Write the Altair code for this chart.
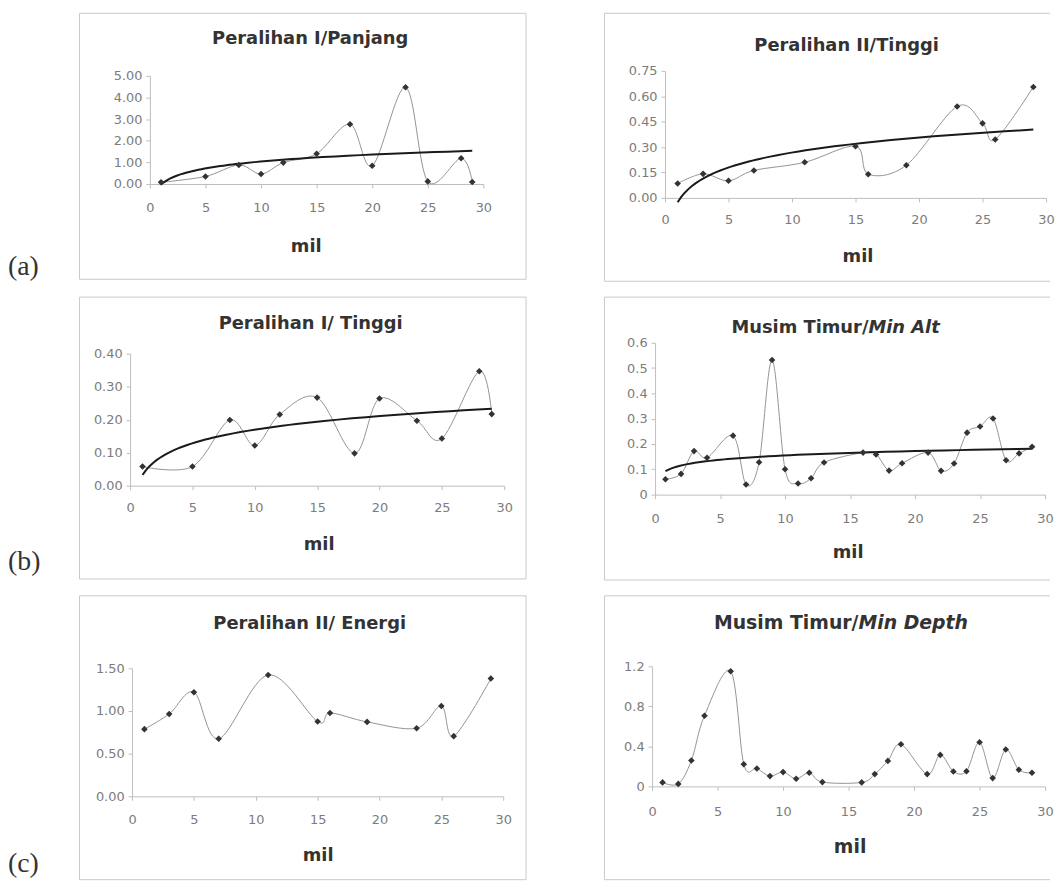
import altair as alt
import pandas as pd

# ---------------- data ----------------
x_ticks = [0, 5, 10, 15, 20, 25, 30]

mil_a1 = [1, 5, 8, 10, 12, 15, 18, 20, 23, 25, 28, 29]
val_a1 = [0.08, 0.35, 0.88, 0.46, 0.99, 1.40, 2.76, 0.84, 4.47, 0.12, 1.19, 0.09]
yt_a1 = [0, 1, 2, 3, 4, 5]

mil_a2 = [1, 3, 5, 7, 11, 15, 16, 19, 23, 25, 26, 29]
val_a2 = [0.085, 0.142, 0.101, 0.162, 0.21, 0.305, 0.14, 0.193, 0.54, 0.44, 0.345, 0.655]
yt_a2 = [0, 0.15, 0.30, 0.45, 0.60, 0.75]

mil_b1 = [1, 5, 8, 10, 12, 15, 18, 20, 23, 25, 28, 29]
val_b1 = [0.058, 0.058, 0.199, 0.122, 0.216, 0.267, 0.098, 0.264, 0.197, 0.143, 0.347, 0.217]
yt_b1 = [0, 0.1, 0.2, 0.3, 0.4]

mil_b2 = [0.8, 2, 3, 4, 6, 7, 8, 9, 10, 11, 12, 13, 16, 17, 18, 19, 21, 22, 23, 24, 25, 26, 27, 28, 29]
val_b2 = [0.061, 0.082, 0.172, 0.146, 0.233, 0.040, 0.128, 0.532, 0.100, 0.044, 0.065, 0.127,
          0.166, 0.159, 0.095, 0.124, 0.166, 0.094, 0.123, 0.245, 0.269, 0.301, 0.136, 0.163, 0.189]
yt_b2 = [0, 0.1, 0.2, 0.3, 0.4, 0.5, 0.6]

mil_c1 = [1, 3, 5, 7, 11, 15, 16, 19, 23, 25, 26, 29]
val_c1 = [0.787, 0.965, 1.22, 0.674, 1.422, 0.876, 0.977, 0.872, 0.798, 1.058, 0.705, 1.38]
yt_c1 = [0, 0.5, 1.0, 1.5]

mil_c2 = [0.8, 2, 3, 4, 6, 7, 8, 9, 10, 11, 12, 13, 16, 17, 18, 19, 21, 22, 23, 24, 25, 26, 27, 28, 29]
val_c2 = [0.04, 0.025, 0.259, 0.706, 1.15, 0.222, 0.179, 0.103, 0.143, 0.076, 0.136, 0.043,
          0.040, 0.123, 0.255, 0.421, 0.123, 0.315, 0.149, 0.152, 0.441, 0.083, 0.368, 0.166, 0.136]
yt_c2 = [0, 0.4, 0.8, 1.2]

titles = {
    "a1": ["Peralihan I/Panjang"],
    "a2": ["Peralihan II/Tinggi"],
    "b1": ["Peralihan I/ Tinggi"],
    "b2": ["Musim Timur/", "Min Alt"],
    "c1": ["Peralihan II/ Energi"],
    "c2": ["Musim Timur/", "Min Depth"],
}
side_labels = {"a1": "(a)", "b1": "(b)", "c1": "(c)"}
x_title = "mil"

# ---------------- layout (page pixel coordinates) ----------------
# ox/oy = origin of the view group (shared within grid rows / columns)
LEFT_OX = 131
ROW_OY = {1: 70, 2: 342, 3: 666}
RIGHT_EDGE = 1056
G = {
    "a1": dict(row=1, x0=151, w=336, y0=75, h=109, fl=80, fr=530, ft=12, fb=280,
               tx=312.5, ty=38, mx=308, my=247, ly=208, lab_y=268, lab_base="middle", ts=18),
    "a2": dict(row=1, x0=668, w=384, y0=70, h=128, fl=607, fr=RIGHT_EDGE, ft=12, fb=282,
               tx=851, ty=45, mx=862, my=257, ly=220, ts=18),
    "b1": dict(row=2, x0=131, w=377, y0=353, h=133, fl=80, fr=530, ft=296, fb=580,
               tx=313, ty=323, mx=321, my=545, ly=508, lab_y=563, lab_base="middle", ts=18),
    "b2": dict(row=2, x0=658, w=393, y0=342, h=153, fl=607, fr=RIGHT_EDGE, ft=296, fb=581,
               tx=873, ty=327, mx=852, my=553, ly=519, ts=18),
    "c1": dict(row=3, x0=133, w=374, y0=668, h=129, fl=80, fr=530, ft=595, fb=881,
               tx=312, ty=623, mx=320, my=857, ly=820, lab_y=879, lab_base="bottom", ts=18),
    "c2": dict(row=3, x0=655, w=396, y0=666, h=121, fl=607, fr=RIGHT_EDGE, ft=595, fb=881,
               tx=863, ty=622, mx=854, my=848, ly=812, ts=19),
}

FONT = "DejaVu Sans"
TICK_SIZE = 4
AXIS_GRAY = "#bdbdbd"
LABEL_GRAY = "#7c7c7c"
TEXT_DARK = "#333333"
FRAME_GRAY = "#c9c9c9"


def deco():
    return alt.Chart(alt.Data(values=[{"d": 0}]))


def panel(key, xs, ys, yticks, yfmt, with_trend, left_col):
    g = G[key]
    x0, y0, w, h = g["x0"], g["y0"], g["w"], g["h"]
    ox = LEFT_OX if left_col else x0
    oy = ROW_OY[g["row"]]
    dx, dy = x0 - ox, y0 - oy
    vw, vh = dx + w, dy + h
    bottom = y0 + h
    df = pd.DataFrame({"mil": xs, "v": ys})

    X = alt.X(
        "mil:Q",
        scale=alt.Scale(domain=[0, 30], nice=False, zero=False, range=[dx, dx + w]),
        axis=alt.Axis(
            values=x_ticks, format="d", title=x_title,
            titleFont=FONT, titleFontSize=g["ts"], titleFontWeight="bold", titleColor=TEXT_DARK,
            titleX=g["mx"] - ox, titleY=g["my"] - bottom, titleBaseline="middle", titleAlign="center",
            labelFont=FONT, labelFontSize=13, labelColor=LABEL_GRAY,
            labelBaseline="middle", labelPadding=g["ly"] - bottom - TICK_SIZE,
            labelFlush=False, labelOverlap=False,
            tickSize=TICK_SIZE, tickColor=AXIS_GRAY, domainColor=AXIS_GRAY, grid=False,
        ),
    )
    Y = alt.Y(
        "v:Q",
        scale=alt.Scale(domain=[yticks[0], yticks[-1]], nice=False, zero=True, range=[vh, dy]),
        axis=alt.Axis(
            values=yticks, format=yfmt, title=None, offset=-dx,
            labelFont=FONT, labelFontSize=13, labelColor=LABEL_GRAY, labelPadding=4,
            labelFlush=False, labelOverlap=False,
            tickSize=TICK_SIZE, tickColor=AXIS_GRAY, domainColor=AXIS_GRAY, grid=False,
        ),
    )

    layers = []
    fl, fr, ft, fb = g["fl"] - ox, g["fr"] - ox, g["ft"] - oy, g["fb"] - oy
    if left_col:
        layers.append(
            deco().mark_rect(filled=False, stroke=FRAME_GRAY, strokeWidth=1).encode(
                x=alt.value(fl), x2=alt.value(fr), y=alt.value(ft), y2=alt.value(fb))
        )
    else:
        layers.append(deco().mark_rule(color=FRAME_GRAY, strokeWidth=1).encode(
            x=alt.value(fl), x2=alt.value(fr), y=alt.value(ft)))
        layers.append(deco().mark_rule(color=FRAME_GRAY, strokeWidth=1).encode(
            x=alt.value(fl), x2=alt.value(fr), y=alt.value(fb)))
        layers.append(deco().mark_rule(color=FRAME_GRAY, strokeWidth=1).encode(
            x=alt.value(fl), y=alt.value(ft), y2=alt.value(fb)))

    base = alt.Chart(df)
    layers.append(base.mark_line(interpolate="cardinal", color="#939393", strokeWidth=1).encode(x=X, y=Y))
    if with_trend:
        layers.append(
            base.transform_regression("mil", "v", method="log")
            .mark_line(color="#1a1a1a", strokeWidth=2)
            .encode(x=X, y=Y)
        )
    layers.append(base.mark_point(shape="diamond", filled=True, size=44, color="#333333", opacity=1)
                  .encode(x=X, y=Y))

    parts = titles[key]
    tx, ty = g["tx"] - ox, g["ty"] - oy
    if len(parts) == 1:
        layers.append(deco().mark_text(text=parts[0], font=FONT, fontSize=g["ts"], fontWeight="bold",
                                       color=TEXT_DARK, align="center", baseline="middle")
                      .encode(x=alt.value(tx), y=alt.value(ty)))
    else:
        layers.append(deco().mark_text(text=parts[0], font=FONT, fontSize=g["ts"], fontWeight="bold",
                                       color=TEXT_DARK, align="right", baseline="middle")
                      .encode(x=alt.value(tx), y=alt.value(ty)))
        layers.append(deco().mark_text(text=parts[1], font=FONT, fontSize=g["ts"], fontWeight="bold",
                                       fontStyle="italic", color=TEXT_DARK, align="left", baseline="middle")
                      .encode(x=alt.value(tx), y=alt.value(ty)))

    if left_col:
        layers.append(deco().mark_text(text=side_labels[key], font="Liberation Serif", fontSize=28,
                                       color=TEXT_DARK, align="left", baseline=g["lab_base"])
                      .encode(x=alt.value(8 - ox), y=alt.value(g["lab_y"] - oy)))

    return alt.layer(*layers).properties(width=vw, height=vh)


p_a1 = panel("a1", mil_a1, val_a1, yt_a1, ".2f", True, True)
p_a2 = panel("a2", mil_a2, val_a2, yt_a2, ".2f", True, False)
p_b1 = panel("b1", mil_b1, val_b1, yt_b1, ".2f", True, True)
p_b2 = panel("b2", mil_b2, val_b2, yt_b2, ".1~f", True, False)
p_c1 = panel("c1", mil_c1, val_c1, yt_c1, ".2f", False, True)
p_c2 = panel("c2", mil_c2, val_c2, yt_c2, ".1~f", False, False)

row1 = alt.hconcat(p_a1, p_a2, spacing=77)
row2 = alt.hconcat(p_b1, p_b2, spacing=77)
row3 = alt.hconcat(p_c1, p_c2, spacing=77)

chart = (
    alt.vconcat(row1, row2, row3, spacing=14)
    .properties(padding={"left": 0, "top": 1, "right": 0, "bottom": 0}, background="white")
    .configure_view(stroke=None)
)

chart.save("out.html", embed_options={"renderer": "svg", "actions": False})
